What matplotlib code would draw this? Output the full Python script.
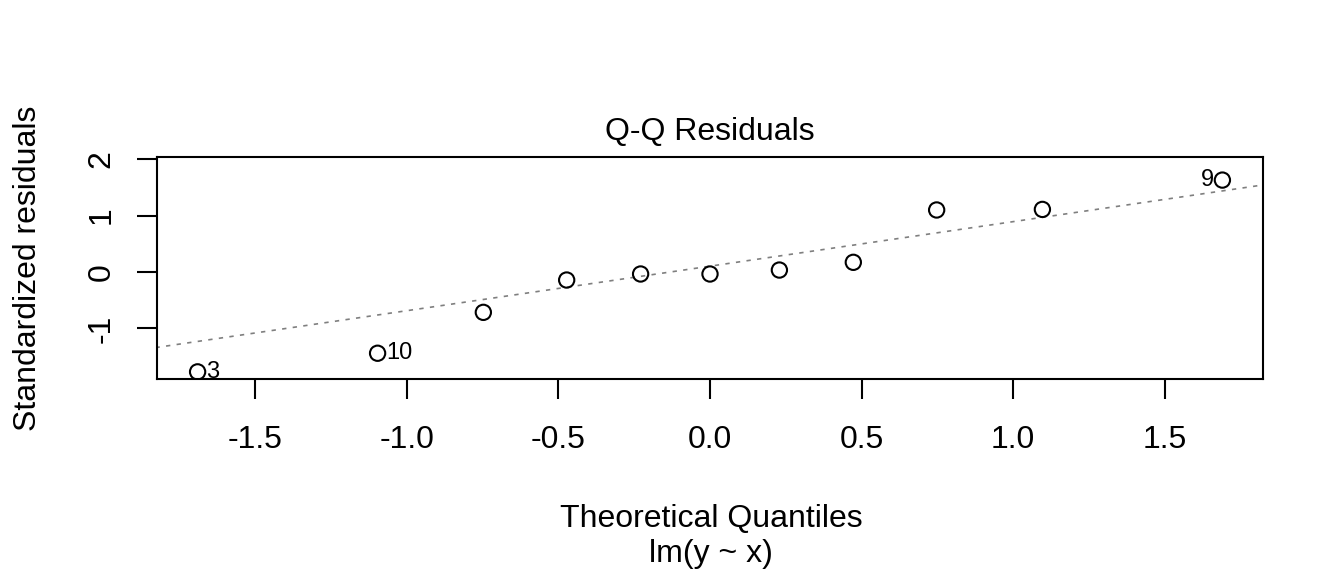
import numpy as np
import matplotlib
matplotlib.use("Agg")
import matplotlib.pyplot as plt

plt.rcParams['font.family'] = ['Liberation Sans', 'DejaVu Sans']
plt.rcParams['axes.unicode_minus'] = False

# theoretical quantiles (qnorm(ppoints(11))) and standardized residuals, sorted
theo = [-1.691, -1.097, -0.748, -0.473, -0.229, 0.0, 0.229, 0.473, 0.748, 1.097, 1.691]
resid = [-1.77, -1.44, -0.715, -0.142, -0.035, -0.035, 0.035, 0.172, 1.10, 1.11, 1.63]
obs_ids = [3, 10, None, None, None, None, None, None, None, None, 9]
label_side = ['right', 'right', None, None, None, None, None, None, None, None, 'left']

xticks = [-1.5, -1.0, -0.5, 0.0, 0.5, 1.0, 1.5]
xticklabels = ['-1.5', '-1.0', '-0.5', '0.0', '0.5', '1.0', '1.5']
yticks = [-1, 0, 1, 2]

fs = 23
fig = plt.figure(figsize=(13.44, 5.76), dpi=100)
ax = fig.add_axes([157.3 / 1344, 1 - 379.3 / 576, (1263.3 - 157.3) / 1344, (379.3 - 157.3) / 576])

ax.scatter(theo, resid, s=11**2, facecolors='none', edgecolors='black', linewidths=1.5, zorder=3)

# qqline through the quartiles
q_y = np.quantile(resid, [0.25, 0.75])
q_x = np.array([-0.6745, 0.6745])
slope = (q_y[1] - q_y[0]) / (q_x[1] - q_x[0])
icpt = q_y[0] - slope * q_x[0]
xl = np.array([-1.83, 1.83])
ax.plot(xl, icpt + slope * xl, color='#7f7f7f', lw=1.2, linestyle=(0, (2.6, 3.8)), zorder=2)

for xv, yv, lab, side in zip(theo, resid, obs_ids, label_side):
    if lab is None:
        continue
    dx = 6 if side == 'right' else -6
    ax.annotate(str(lab), (xv, yv), xytext=(dx, 0), textcoords='offset points',
                ha='left' if side == 'right' else 'right', va='center', fontsize=17)

ax.set_xlim(-1.824, 1.826)
ax.set_ylim(-1.902, 2.034)
ax.set_xticks(xticks)
ax.set_xticklabels(xticklabels)
ax.set_yticks(yticks)
ax.set_yticklabels([str(v) for v in yticks], rotation=90, va='center')
ax.tick_params(axis='both', direction='out', length=14.4, width=1.5, labelsize=fs)
ax.tick_params(axis='x', pad=18.5)
ax.tick_params(axis='y', pad=15)
for sp in ax.spines.values():
    sp.set_linewidth(1.5)

fig.text(710 / 1344, 1 - 140 / 576, 'Q-Q Residuals', ha='center', va='baseline', fontsize=fs)
fig.text(711 / 1344, 1 - 526.7 / 576, 'Theoretical Quantiles', ha='center', va='baseline', fontsize=fs)
fig.text(711 / 1344, 1 - 562 / 576, 'lm(y ~ x)', ha='center', va='baseline', fontsize=fs)
fig.text(28 / 1344, 1 - 268 / 576, 'Standardized residuals', ha='center', va='center',
         rotation=90, fontsize=fs)

fig.savefig('out.png', dpi=100)
